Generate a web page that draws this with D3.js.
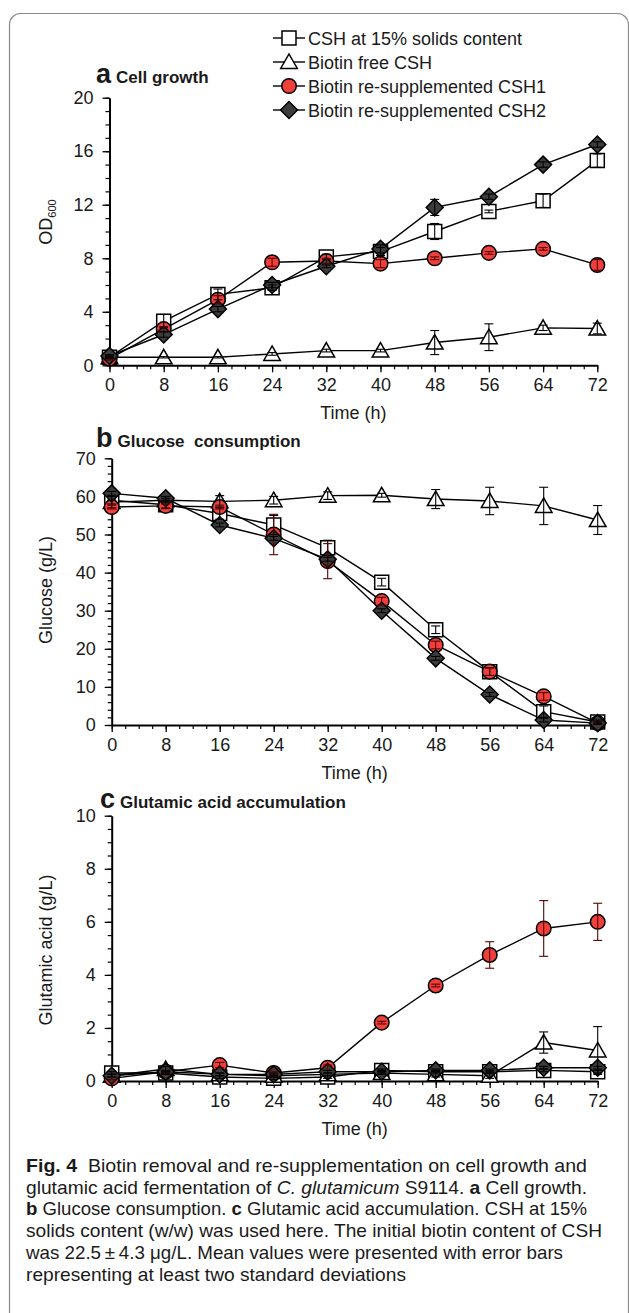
<!DOCTYPE html>
<html>
<head>
<meta charset="utf-8">
<script src="https://cdn.jsdelivr.net/npm/d3@7"></script>
<style>
body { margin: 0; background: #fff; }
svg { display: block; }
text { font-family: "Liberation Sans", Arial, sans-serif; fill: #1a1a1a; white-space: pre; }
</style>
</head>
<body>
<svg width="629" height="1313"></svg>
<script>
// sampling times (h)
var times = [0, 8, 16, 24, 32, 40, 48, 56, 64, 72];
var seriesNames = ["CSH at 15% solids content", "Biotin free CSH", "Biotin re-supplemented CSH1", "Biotin re-supplemented CSH2"];

// a: cell growth, OD600
var odCSH  = [0.6, 3.3, 5.3, 5.8, 8.1, 8.5, 10.0, 11.5, 12.3, 15.3];
var odFree = [0.6, 0.6, 0.6, 0.85, 1.1, 1.1, 1.7, 2.1, 2.8, 2.75];
var odCSH1 = [0.5, 2.7, 4.9, 7.7, 7.8, 7.6, 8.0, 8.4, 8.7, 7.5];
var odCSH2 = [0.7, 2.3, 4.2, 6.0, 7.4, 8.7, 11.8, 12.6, 15.0, 16.5];
var odCSHErr  = [0.1, 0.5, 0.4, 0.2, 0.2, 0.3, 0.6, 0.1, 0.5, 0.5];
var odFreeErr = [0.05, 0.05, 0.05, 0.1, 0.1, 0.1, 0.9, 1.0, 0.2, 0.4];
var odCSH1Err = [0.1, 0.2, 0.3, 0.3, 0.2, 0.3, 0.1, 0.1, 0.1, 0.4];
var odCSH2Err = [0.1, 0.2, 0.2, 0.2, 0.1, 0.3, 0.6, 0.2, 0.2, 0.2];

// b: glucose (g/L)
var gluCSH  = [59.0, 57.8, 55.5, 52.5, 46.5, 37.5, 25.0, 14.0, 3.5, 0.8];
var gluFree = [58.5, 59.0, 58.7, 59.0, 60.2, 60.3, 59.3, 58.8, 57.5, 53.8];
var gluCSH1 = [57.2, 57.5, 57.2, 50.0, 43.0, 32.5, 21.0, 14.0, 7.5, 0.5];
var gluCSH2 = [60.8, 59.5, 52.5, 49.0, 43.5, 30.0, 17.5, 8.0, 1.3, 0.5];
var gluCSHErr  = [1.0, 1.0, 1.5, 2.5, 2.0, 1.0, 1.0, 1.0, 1.5, 0.5];
var gluFreeErr = [1.5, 0.5, 1.5, 1.0, 1.0, 0.5, 2.5, 3.6, 4.9, 3.8];
var gluCSH1Err = [0.5, 0.5, 0.5, 5.3, 4.6, 1.0, 1.0, 1.0, 1.0, 0.3];
var gluCSH2Err = [0.5, 0.5, 0.5, 0.5, 0.5, 0.5, 0.5, 0.5, 0.5, 0.3];

// c: glutamic acid (g/L)
var gaCSH  = [0.3, 0.3, 0.15, 0.1, 0.15, 0.4, 0.35, 0.35, 0.4, 0.35];
var gaFree = [0.2, 0.45, 0.25, 0.2, 0.25, 0.3, 0.25, 0.2, 1.45, 1.15];
var gaCSH1 = [0.1, 0.35, 0.6, 0.3, 0.5, 2.2, 3.6, 4.75, 5.75, 6.0];
var gaCSH2 = [0.2, 0.35, 0.25, 0.25, 0.35, 0.35, 0.4, 0.4, 0.5, 0.5];
var gaCSHErr  = [0.05, 0.05, 0.05, 0.05, 0.05, 0.05, 0.05, 0.05, 0.05, 0.05];
var gaFreeErr = [0.05, 0.1, 0.05, 0.05, 0.05, 0.05, 0.1, 0.1, 0.4, 0.9];
var gaCSH1Err = [0.05, 0.05, 0.1, 0.05, 0.1, 0.05, 0.05, 0.5, 1.05, 0.7];
var gaCSH2Err = [0.05, 0.05, 0.05, 0.05, 0.05, 0.05, 0.05, 0.05, 0.05, 0.05];

var captionLines = [
  [["Fig. 4", "b"], ["  Biotin removal and re-supplementation on cell growth and", ""]],
  [["glutamic acid fermentation of ", ""], ["C. glutamicum", "i"], [" S9114. ", ""], ["a", "b"], [" Cell growth.", ""]],
  [["b", "b"], [" Glucose consumption. ", ""], ["c", "b"], [" Glutamic acid accumulation. CSH at 15%", ""]],
  [["solids content (w/w) was used here. The initial biotin content of CSH", ""]],
  [["was 22.5\u2009\u00b1\u20094.3 \u03bcg/L. Mean values were presented with error bars", ""]],
  [["representing at least two standard deviations", ""]]
];
var captionWidths = [561, 561, 561, 576, 537, 380];

var shapes = ["square", "triangle", "circle", "diamond"];
var fills = ["#ffffff", "#ffffff", "#f0403c", "#3c3c3c"];

var svg = d3.select("svg");

svg.append("rect")
  .attr("x", 9.5).attr("y", 13.5)
  .attr("width", 619).attr("height", 1340)
  .attr("rx", 11)
  .attr("fill", "none").attr("stroke", "#8a8a8a").attr("stroke-width", 1.2);

function drawMarker(g, shape, fill) {
  var m;
  if (shape == "circle") {
    m = g.append("circle").attr("r", 7.3);
  } else if (shape == "square") {
    m = g.append("path").attr("d", "M-7,-7H7V7H-7Z");
  } else if (shape == "triangle") {
    m = g.append("path").attr("d", "M0,-8L8.3,6.5H-8.3Z");
  } else {
    m = g.append("path").attr("d", "M0,-8.5L8.5,0L0,8.5L-8.5,0Z");
  }
  m.attr("fill", fill).attr("stroke", "#000").attr("stroke-width", 1.5);
}

var panels = [
  { letter: "a", title: "Cell growth", lx: 96, ty: 83, x0: 109.5, x1: 597.3, yTop: 97.7, yBot: 365.3,
    max: 20, step: 4, minor: 1, ylab: "OD", sub: "600", ylabY: 222,
    vals: [odCSH, odFree, odCSH1, odCSH2], errs: [odCSHErr, odFreeErr, odCSH1Err, odCSH2Err] },
  { letter: "b", title: "Glucose  consumption", lx: 96, ty: 447, x0: 111.7, x1: 597.7, yTop: 458.3, yBot: 725,
    max: 70, step: 10, minor: 2, ylab: "Glucose (g/L)", ylabY: 590,
    vals: [gluCSH, gluFree, gluCSH1, gluCSH2], errs: [gluCSHErr, gluFreeErr, gluCSH1Err, gluCSH2Err] },
  { letter: "c", title: "Glutamic acid accumulation", lx: 100, ty: 808, x0: 111.7, x1: 597.7, yTop: 815.7, yBot: 1081,
    max: 10, step: 2, minor: 0.5, ylab: "Glutamic acid (g/L)", ylabY: 950,
    vals: [gaCSH, gaFree, gaCSH1, gaCSH2], errs: [gaCSHErr, gaFreeErr, gaCSH1Err, gaCSH2Err] }
];

panels.forEach(function(p) {
  var x = d3.scaleLinear().domain([0, 72]).range([p.x0, p.x1]);
  var y = d3.scaleLinear().domain([0, p.max]).range([p.yBot, p.yTop]);
  var g = svg.append("g");

  // minor ticks first
  g.append("g").attr("transform", "translate(0," + p.yBot + ")")
    .call(d3.axisBottom(x).tickValues(d3.range(0, 73, 2)).tickSize(4).tickSizeOuter(0).tickFormat(""))
    .call(function(a) { a.select(".domain").remove(); a.selectAll("line").attr("stroke-width", 1.2); });
  g.append("g").attr("transform", "translate(" + p.x0 + ",0)")
    .call(d3.axisLeft(y).tickValues(d3.range(0, p.max + 0.001, p.minor)).tickSize(4).tickSizeOuter(0).tickFormat(""))
    .call(function(a) { a.select(".domain").remove(); a.selectAll("line").attr("stroke-width", 1.2); });

  var xa = g.append("g").attr("transform", "translate(0," + p.yBot + ")")
    .call(d3.axisBottom(x).tickValues(times).tickSize(7).tickSizeOuter(0).tickPadding(6));
  var ya = g.append("g").attr("transform", "translate(" + p.x0 + ",0)")
    .call(d3.axisLeft(y).tickValues(d3.range(0, p.max + 0.001, p.step)).tickSize(7).tickSizeOuter(0).tickPadding(9));
  [xa, ya].forEach(function(a) {
    a.select(".domain").attr("stroke-width", 2);
    a.selectAll("line").attr("stroke-width", 1.3);
    a.selectAll("text").attr("font-size", 18).attr("fill", "#1a1a1a").attr("font-family", "Liberation Sans, Arial, sans-serif");
  });

  g.append("text").attr("x", (p.x0 + p.x1) / 2).attr("y", p.yBot + 54)
    .attr("text-anchor", "middle").attr("font-size", 18).text("Time (h)");

  var yl = g.append("text")
    .attr("transform", "translate(52," + p.ylabY + ") rotate(-90)")
    .attr("text-anchor", "middle").attr("font-size", 18).text(p.ylab);
  if (p.sub) yl.append("tspan").attr("font-size", 11).attr("dy", 4).text(p.sub);

  var t = g.append("text").attr("x", p.lx).attr("y", p.ty).attr("font-weight", "bold");
  t.append("tspan").attr("font-size", 27).text(p.letter);
  t.append("tspan").attr("font-size", 17).attr("dx", 5).text(p.title);

  var line = d3.line().x(function(d, i) { return x(times[i]); }).y(function(d) { return y(d); });
  p.vals.forEach(function(v) {
    g.append("path").attr("d", line(v)).attr("fill", "none").attr("stroke", "#000").attr("stroke-width", 1.4);
  });

  p.vals.forEach(function(v, s) {
    v.forEach(function(d, i) {
      var mg = g.append("g").attr("transform", "translate(" + x(times[i]) + "," + y(d) + ")");
      drawMarker(mg, shapes[s], fills[s]);
    });
  });

  // error bars on top of the markers
  p.vals.forEach(function(v, s) {
    v.forEach(function(d, i) {
      var e = p.errs[s][i];
      var cx = x(times[i]);
      var c = s == 2 ? "#5a0000" : "#000";
      g.append("line").attr("x1", cx).attr("x2", cx).attr("y1", y(d - e)).attr("y2", y(d + e))
        .attr("stroke", c).attr("stroke-width", 1.1);
      [d - e, d + e].forEach(function(yy) {
        g.append("line").attr("x1", cx - 4.5).attr("x2", cx + 4.5).attr("y1", y(yy)).attr("y2", y(yy))
          .attr("stroke", c).attr("stroke-width", 1.1);
      });
    });
  });
});

// legend
var legend = svg.append("g");
seriesNames.forEach(function(name, s) {
  var ly = 38 + s * 24;
  legend.append("line").attr("x1", 273).attr("x2", 305).attr("y1", ly).attr("y2", ly)
    .attr("stroke", "#000").attr("stroke-width", 1.4);
  var mg = legend.append("g").attr("transform", "translate(289," + ly + ")");
  drawMarker(mg, shapes[s], fills[s]);
  legend.append("text").attr("x", 308).attr("y", ly + 6.5).attr("font-size", 18).text(name);
});

// caption
var cap = svg.append("g");
captionLines.forEach(function(parts, li) {
  var t = cap.append("text").attr("x", 26).attr("y", 1172 + li * 21.7)
    .attr("font-size", 18.5).attr("fill", "#231f20");
  parts.forEach(function(pt) {
    var sp = t.append("tspan").text(pt[0]);
    if (pt[1] == "b") sp.attr("font-weight", "bold");
    if (pt[1] == "i") sp.attr("font-style", "italic");
  });
  t.attr("textLength", captionWidths[li]).attr("lengthAdjust", "spacingAndGlyphs");
});
</script>
</body>
</html>
